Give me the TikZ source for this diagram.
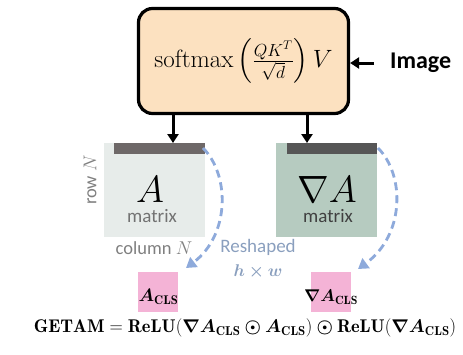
\RequirePackage{fix-cm}
\documentclass[tikz,border=0pt]{standalone}
\usepackage{fontspec}
\usepackage{amsmath}
\usepackage{bm}
\newfontfamily\lab{Carlito}
\usetikzlibrary{arrows.meta,calc}
\definecolor{peach}{HTML}{FCE1C0}
\definecolor{lightmat}{HTML}{E7ECEA}
\definecolor{greenmat}{HTML}{B6CBC0}
\definecolor{barL}{HTML}{6E6868}
\definecolor{barR}{HTML}{565656}
\definecolor{pinkbox}{HTML}{F4B3D6}
\definecolor{dashblue}{HTML}{8EAADB}
\definecolor{reshc}{HTML}{8A9FBE}
\definecolor{graylab}{HTML}{7F7F7F}
\tikzset{
  mainbox/.style={draw=black, line width=3.2pt, rounded corners=14pt, fill=peach,
    minimum width=210pt, minimum height=105pt, inner sep=0pt},
  matbox/.style={minimum width=101pt, minimum height=94pt, inner sep=0pt},
  matbar/.style={minimum width=#1, minimum height=11pt, inner sep=0pt},
  pinkb/.style={fill=pinkbox, minimum width=40pt, minimum height=40pt, inner sep=0pt},
  blackarrow/.style={line width=3pt, -{Triangle[length=9pt,width=11pt]}},
  dasharrow/.style={draw=dashblue, line width=2.8pt, dash pattern=on 8pt off 5pt,
    -{Triangle[length=10pt,width=12pt]}},
  graytext/.style={text=graylab, font=\lab\fontsize{18.5}{20}\selectfont, inner sep=0pt},
}
\begin{document}
\begin{tikzpicture}[x=1pt,y=-1pt]
\useasboundingbox (0,0) rectangle (463,354);
% main box
\node[mainbox] (box) at (243.5,61)
  {\fontsize{25}{30}\selectfont $\mathrm{softmax}\left(\tfrac{QK^{T}}{\sqrt{d}}\right)V$};
\node[font=\lab\bfseries\fontsize{24}{26}\selectfont, inner ysep=0pt, inner xsep=16pt, anchor=west] (img) at (374,63) {Image};
\draw[blackarrow] (img.west) -- (img.west -| box.east);
% matrices
\node[matbox, fill=lightmat] (matL) at (154.5,190) {};
\node[matbox, fill=greenmat] (matR) at (326.5,190) {};
\node[matbar=91pt, fill=barL, anchor=north east] (barLn) at (matL.north east) {};
\node[matbar=90pt, fill=barR, anchor=north east] (barRn) at (matR.north east) {};
\coordinate (aL) at (173,143);
\coordinate (aR) at (307,143);
\draw[blackarrow] (box.south -| aL) -- (aL);
\draw[blackarrow] (box.south -| aR) -- (aR);
\node[font=\fontsize{38}{40}\selectfont, inner sep=0pt] (Atxt) at (150,190) {$A$};
\node[inner sep=0pt] (mtxL) at (152,216) {\lab\fontsize{19}{20}\selectfont\color{graylab!90!black}matrix};
\node[font=\fontsize{38}{40}\selectfont, inner sep=0pt] (gAtxt) at (327,190) {$\nabla A$};
\node[inner sep=0pt] (mtxR) at (328,216) {\lab\fontsize{19}{20}\selectfont\color{black!75}matrix};
% labels
\node[graytext, rotate=90] (rowN) at (90,180) {row $N$};
\node[graytext] (colN) at (154,248) {column $N$};
\node[text=reshc, font=\lab\fontsize{19}{20}\selectfont, inner sep=0pt] (resh) at (258,247) {Reshaped};
\node[text=reshc, font=\fontsize{17}{20}\selectfont, inner sep=0pt] (hwt) at (258,271.5) {$\bm{h\times w}$};
% pink boxes
\node[pinkb] (pL) at (158,292) {};
\node[pinkb] (pR) at (331,292) {};
\node[font=\fontsize{18}{20}\selectfont, inner sep=0pt] (ACLS) at (158.5,297) {$\bm{A}_{\mathbf{CLS}}$};
\node[font=\fontsize{17}{20}\selectfont, inner sep=0pt] (gACLS) at (331,297) {$\bm{\nabla A}_{\mathbf{CLS}}$};
% dashed arcs
\coordinate (sL) at (203,148);
\coordinate (eL) at (186,268);
\coordinate (sR) at (378,148);
\coordinate (eR) at (358,269);
\draw[dasharrow] (sL) .. controls (230,175) and (230,235) .. (eL);
\draw[dasharrow] (sR) .. controls (405,175) and (405,235) .. (eR);
% formula
\node[font=\fontsize{18.4}{20}\selectfont, inner sep=0pt] (form) at (245,328)
  {$\mathbf{GETAM}=\mathbf{ReLU}(\bm{\nabla A}_{\mathbf{CLS}}\bm{\odot} \bm{A}_{\mathbf{CLS}})\bm{\odot}\mathbf{ReLU}(\bm{\nabla A}_{\mathbf{CLS}})$};
\end{tikzpicture}
\end{document}
